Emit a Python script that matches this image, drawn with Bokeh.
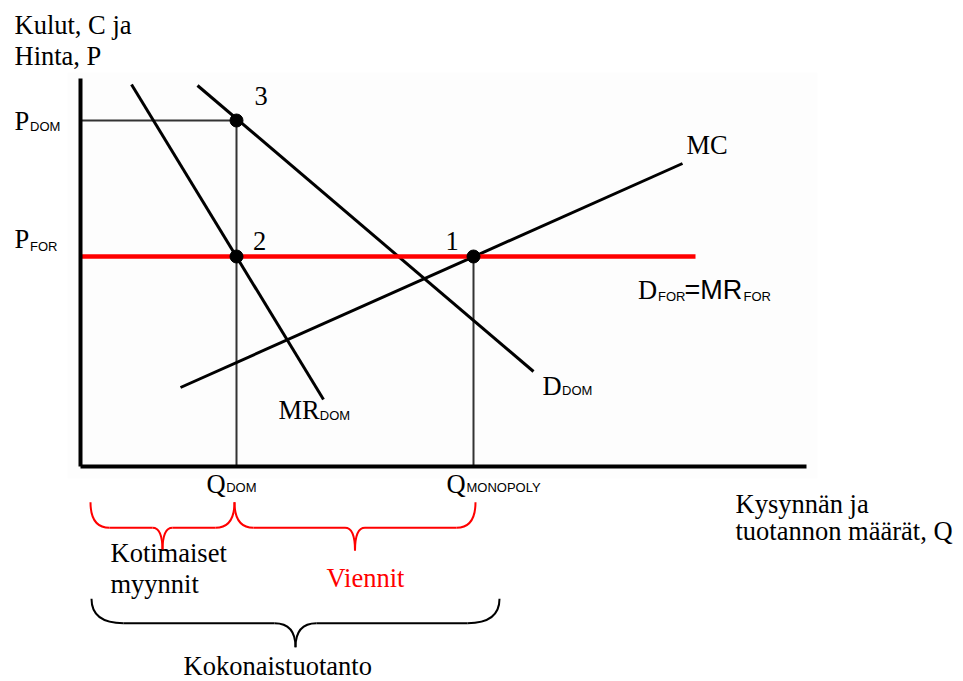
from bokeh.plotting import figure
from bokeh.models import Range1d
from bokeh.core.properties import value
from bokeh.embed import file_html
from bokeh.resources import INLINE

# ---------------- data (model units: quantity Q, price P) ----------------
Q_DOM = 15.6
Q_MONOPOLY = 39.3
P_DOM = 34.6
P_FOR = 21.0
AXIS_Q_MAX = 72.6
AXIS_P_MAX = 38.8

MR_DOM_q = [5.1, 24.3]
MR_DOM_p = [38.2, 6.7]
D_DOM_q = [11.7, 45.3]
D_DOM_p = [38.1, 9.5]
MC_q = [10.0, 60.2]
MC_p = [7.9, 30.3]
D_FOR_q = [0.0, 61.5]
D_FOR_p = [P_FOR, P_FOR]

point_q = [Q_MONOPOLY, Q_DOM, Q_DOM]
point_p = [P_FOR, P_FOR, P_DOM]
point_labels = ["1", "2", "3"]

# brace spans along Q: (start, end)
brace_dom = (1.0, 15.4)
brace_exp = (15.4, 39.5)
brace_total = (1.1, 41.9)

SERIF = value("Liberation Serif")
SANS = value("Liberation Sans")
MAIN = 26.5
SUB = 13.0
PX_PER_UNIT = 10.0

p = figure(width=963, height=681,
           x_range=Range1d(-8.0, 88.3), y_range=Range1d(-21.5, 46.6),
           x_axis_type=None, y_axis_type=None,
           output_backend="svg", toolbar_location=None, min_border=0)
p.grid.visible = False
p.outline_line_color = None
p.background_fill_color = "white"
p.border_fill_color = "white"

# faint panel behind the diagram
p.quad(left=[-1.3], right=[73.7], bottom=[-1.2], top=[39.4],
       fill_color="#fdfdfd", line_color=None)

# guide lines
p.segment(x0=[0, Q_DOM, Q_MONOPOLY], y0=[P_DOM, 0, 0],
          x1=[Q_DOM, Q_DOM, Q_MONOPOLY], y1=[P_DOM, P_DOM, P_FOR],
          line_color="#333333", line_width=2)

# curves
p.line(MR_DOM_q, MR_DOM_p, line_color="black", line_width=3)
p.line(D_DOM_q, D_DOM_p, line_color="black", line_width=3)
p.line(MC_q, MC_p, line_color="black", line_width=3)
p.line(D_FOR_q, D_FOR_p, line_color="#ff0000", line_width=4.5)

# axes
p.segment(x0=[0, 0], y0=[0, 0], x1=[0, AXIS_Q_MAX], y1=[AXIS_P_MAX, 0],
          line_color="black", line_width=4)

# points
p.scatter(point_q, point_p, size=13, color="black")


def brace(span, p_top, p_mid, p_tip, r, t, color):
    q0, q1 = span
    qm = (q0 + q1) / 2
    p.quadratic(x0=[q0, qm - t, qm + t, q1],
                y0=[p_top, p_mid, p_mid, p_top],
                x1=[q0 + r, qm, qm, q1 - r],
                y1=[p_mid, p_tip, p_tip, p_mid],
                cx=[q0, qm, qm, q1],
                cy=[p_mid, p_mid, p_mid, p_mid],
                line_color=color, line_width=2)
    p.segment(x0=[q0 + r, qm + t], y0=[p_mid, p_mid],
              x1=[qm - t, q1 - r], y1=[p_mid, p_mid],
              line_color=color, line_width=2)


brace(brace_dom, -3.57, -6.13, -8.4, 1.9, 1.0, "#ff0000")
brace(brace_exp, -3.57, -6.13, -8.4, 1.9, 1.0, "#ff0000")
brace(brace_total, -13.23, -15.67, -18.07, 3.2, 2.1, "black")


def txt(x, y, s, font=SERIF, size=MAIN, color="black"):
    # baseline correction for the renderer's alphabetic placement
    yc = y + 0.3 * size / PX_PER_UNIT
    p.text(x=[x], y=[yc], text=[s], text_font=font,
           text_font_size=f"{size}px",
           text_color=color, text_align="left", text_baseline="alphabetic")


# axis titles
txt(-6.6, 43.4, "Kulut, C ja")
txt(-6.6, 40.3, "Hinta, P")
txt(65.5, -4.57, "Kysynnän ja")
txt(65.5, -7.23, "tuotannon määrät, Q")

# price labels
txt(-6.6, 33.77, "P")
txt(-5.05, 33.6, "DOM", SANS, SUB)
txt(-6.6, 21.93, "P")
txt(-5.05, 21.6, "FOR", SANS, SUB)

# quantity labels
txt(12.6, -2.57, "Q")
txt(14.57, -2.47, "DOM", SANS, SUB)
txt(36.6, -2.57, "Q")
txt(38.6, -2.47, "MONOPOLY", SANS, SUB)

# point numbers
for lx, ly, s in zip([36.5, 17.25, 17.4], [21.77, 21.77, 36.27], point_labels):
    txt(lx, ly, s)

# curve labels
txt(60.6, 31.37, "MC")
txt(55.75, 16.87, "D")
txt(57.75, 16.65, "FOR", SANS, SUB)
txt(60.4, 16.87, "=MR", SANS, 27.0)
txt(66.3, 16.65, "FOR", SANS, SUB)
txt(46.2, 7.27, "D")
txt(48.15, 7.17, "DOM", SANS, SUB)
txt(19.8, 4.87, "MR")
txt(23.93, 4.73, "DOM", SANS, SUB)

# brace labels
txt(3.0, -9.4, "Kotimaiset")
txt(3.0, -12.57, "myynnit")
txt(24.6, -11.9, "Viennit", color="#ff0000")
txt(10.3, -20.75, "Kokonaistuotanto")

open("out.html", "w").write(file_html(p, INLINE))
